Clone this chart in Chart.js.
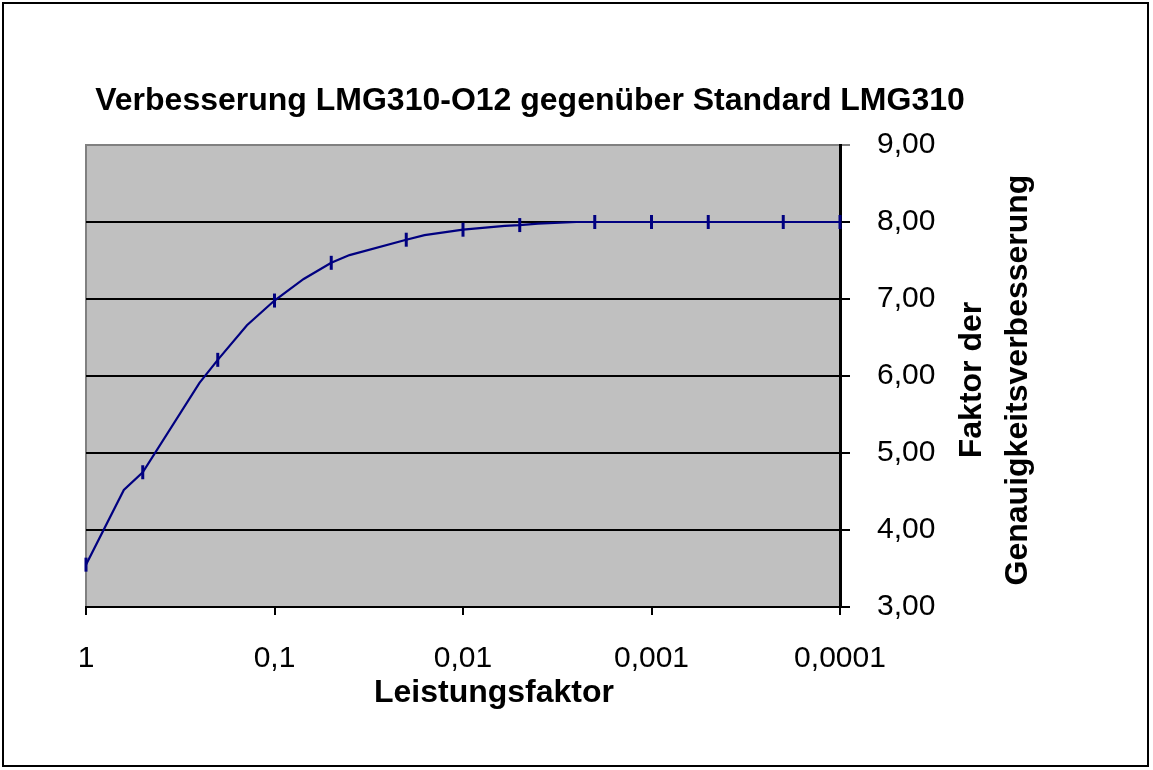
<!DOCTYPE html>
<html>
<head>
<meta charset="utf-8">
<script src="https://cdn.jsdelivr.net/npm/chart.js@4/dist/chart.umd.min.js"></script>
<style>
    html, body { margin: 0; padding: 0; background: #fff; }
    #wrap { width: 1153px; height: 770px; }
</style>
</head>
<body>
<div id="wrap"><canvas id="chart" width="1153" height="770"></canvas></div>
<script>
// Leistungsfaktor (x) und Faktor der Genauigkeitsverbesserung (y)
const curveX = [1, 0.63, 0.5, 0.25, 0.2, 0.14, 0.1, 0.07, 0.05, 0.04, 0.02, 0.016, 0.01, 0.006, 0.005, 0.004, 0.0025, 0.002, 0.001, 0.0005, 0.0002, 0.0001];
const curveY = [3.55, 4.52, 4.75, 5.91, 6.21, 6.66, 6.98, 7.26, 7.47, 7.57, 7.77, 7.83, 7.90, 7.95, 7.96, 7.98, 8.00, 8.00, 8.00, 8.00, 8.00, 8.00];

const markerX = [1, 0.5, 0.2, 0.1, 0.05, 0.02, 0.01, 0.005, 0.002, 0.001, 0.0005, 0.0002, 0.0001];
const markerY = [3.55, 4.75, 6.21, 6.98, 7.47, 7.77, 7.90, 7.96, 8.00, 8.00, 8.00, 8.00, 8.00];

const xTickValues = [1, 0.1, 0.01, 0.001, 0.0001];
const xTickLabels = ["1", "0,1", "0,01", "0,001", "0,0001"];

const chartTitle = "Verbesserung LMG310-O12 gegenüber Standard LMG310";
const xTitle = "Leistungsfaktor";
const yTitle = ["Faktor der", "Genauigkeitsverbesserung"];

const FONT = "'Liberation Sans', Arial, sans-serif";
const NAVY = "#000080";

const frameAndTexts = {
    id: "frameAndTexts",
    beforeDraw(chart) {
        const { ctx, chartArea: a } = chart;
        ctx.save();
        ctx.fillStyle = "#C0C0C0";
        ctx.fillRect(a.left, a.top, a.right - a.left, a.bottom - a.top);
        ctx.strokeStyle = "#808080";
        ctx.lineWidth = 2;
        ctx.beginPath();
        ctx.moveTo(a.left, a.bottom);
        ctx.lineTo(a.left, a.top);
        ctx.lineTo(a.right, a.top);
        ctx.stroke();
        ctx.restore();
    },
    afterDraw(chart) {
        const { ctx } = chart;
        ctx.save();
        ctx.strokeStyle = "#000";
        ctx.lineWidth = 2;
        ctx.strokeRect(3, 3, 1145, 763);

        ctx.fillStyle = "#000";
        ctx.textAlign = "center";
        ctx.textBaseline = "middle";
        ctx.font = `bold 32px ${FONT}`;
        ctx.fillText(chartTitle, 530, 101);
        ctx.fillText(xTitle, 494, 693);

        ctx.translate(995, 380);
        ctx.rotate(-Math.PI / 2);
        ctx.fillText(yTitle[0], 0, -23);
        ctx.fillText(yTitle[1], 0, 23);
        ctx.restore();
    }
};

new Chart(document.getElementById("chart"), {
    type: "scatter",
    data: {
        datasets: [{
            label: "Kurve",
            data: curveX.map((x, i) => ({ x, y: curveY[i] })),
            showLine: true,
            borderColor: NAVY,
            borderWidth: 2.2,
            pointRadius: 0,
            tension: 0
        }, {
            label: "Messpunkte",
            data: markerX.map((x, i) => ({ x, y: markerY[i] })),
            showLine: false,
            pointStyle: "line",
            rotation: 90,
            pointRadius: 7,
            borderColor: NAVY,
            borderWidth: 3,
            clip: false
        }]
    },
    options: {
        responsive: false,
        animation: false,
        layout: { padding: { left: 86, top: 145, right: 0, bottom: 0 } },
        plugins: {
            legend: { display: false },
            tooltip: { enabled: false }
        },
        scales: {
            x: {
                type: "logarithmic",
                reverse: true,
                min: 0.0001,
                max: 1,
                afterBuildTicks: (scale) => { scale.ticks = xTickValues.map(value => ({ value })); },
                afterFit: (scale) => { scale.height = 163; },
                ticks: {
                    autoSkip: false,
                    maxRotation: 0,
                    padding: 26,
                    color: "#000",
                    font: { family: FONT, size: 30 },
                    callback: (value, index) => xTickLabels[index]
                },
                grid: { drawOnChartArea: false, tickLength: 8, color: "#000", lineWidth: 2 },
                border: { color: "#000", width: 2 }
            },
            y: {
                type: "linear",
                position: "right",
                min: 3,
                max: 9,
                afterFit: (scale) => { scale.width = 313; },
                ticks: {
                    stepSize: 1,
                    padding: 27,
                    color: "#000",
                    font: { family: FONT, size: 30 },
                    callback: (value) => value.toFixed(2).replace(".", ",")
                },
                grid: {
                    tickLength: 10,
                    lineWidth: 2,
                    color: (ctx) => (ctx.tick && ctx.tick.value === 9 ? "#808080" : "#000")
                },
                border: { color: "#000", width: 3 }
            }
        }
    },
    plugins: [frameAndTexts]
});
</script>
</body>
</html>
